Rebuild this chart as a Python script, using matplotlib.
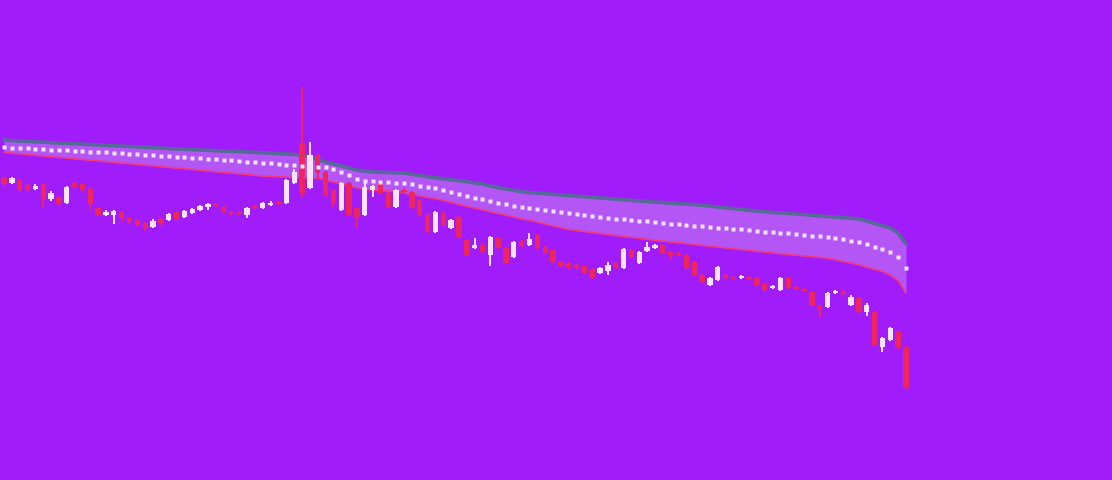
import numpy as np
import matplotlib
matplotlib.use("Agg")
import matplotlib.pyplot as plt

# candle data (price units), one per bar
opens = [302, 297, 300, 295, 291, 296, 281, 283, 277, 297, 296, 291, 272, 265, 265, 268, 262, 260, 257, 253,
         261, 260, 268, 263, 267, 270, 273, 276, 273, 268, 268, 265, 274, 272, 275, 278, 277, 297, 337, 292,
         325, 308, 290, 270, 297, 272, 265, 290, 297, 287, 273, 290, 288, 280, 265, 248, 267, 252, 263, 240,
         232, 235, 225, 242, 232, 223, 239, 235, 245, 233, 230, 218, 217, 215, 214, 211, 207, 209, 217, 212,
         230, 217, 229, 232, 235, 228, 227, 225, 218, 205, 195, 200, 205, 203, 202, 203, 202, 196, 192, 190,
         202, 193, 191, 188, 174, 173, 187, 188, 175, 182, 168, 168, 133, 140, 148, 133]
highs = [303, 303, 301, 296, 296, 297, 289, 284, 294, 299, 297, 292, 273, 270, 270, 269, 263, 261, 258, 261,
         262, 267, 269, 270, 272, 275, 277, 277, 274, 269, 269, 273, 275, 278, 279, 279, 301, 311, 393, 338,
         327, 309, 291, 298, 298, 273, 297, 295, 298, 288, 291, 292, 289, 281, 267, 269, 268, 261, 264, 241,
         242, 236, 244, 243, 233, 239, 240, 247, 246, 234, 231, 219, 218, 216, 215, 212, 213, 218, 218, 232,
         231, 229, 238, 236, 236, 229, 228, 226, 219, 206, 203, 214, 206, 204, 205, 204, 203, 197, 195, 203,
         203, 195, 192, 189, 175, 188, 190, 190, 185, 183, 177, 169, 143, 153, 149, 134]
lows = [294, 296, 288, 289, 290, 272, 279, 274, 276, 292, 289, 270, 264, 264, 256, 259, 256, 254, 249, 252,
        254, 259, 260, 262, 266, 269, 270, 273, 267, 265, 265, 262, 271, 271, 274, 275, 276, 296, 282, 291,
        300, 282, 273, 269, 264, 252, 264, 283, 286, 272, 272, 286, 271, 264, 247, 247, 254, 251, 242, 224,
        231, 227, 214, 231, 216, 222, 233, 234, 231, 226, 217, 212, 210, 210, 206, 201, 206, 205, 211, 211,
        222, 216, 228, 231, 226, 220, 224, 211, 204, 197, 194, 199, 201, 200, 201, 200, 194, 189, 191, 189,
        191, 190, 188, 174, 162, 172, 186, 185, 174, 167, 164, 134, 128, 139, 131, 91]
closes = [296, 302, 290, 290, 294, 281, 287, 277, 293, 293, 290, 276, 265, 268, 269, 262, 258, 255, 252, 259,
          257, 266, 261, 269, 271, 274, 276, 274, 268, 266, 266, 272, 272, 277, 277, 276, 300, 308, 287, 325,
          307, 285, 277, 297, 265, 263, 293, 294, 287, 273, 290, 288, 272, 265, 248, 268, 255, 260, 243, 225,
          235, 228, 243, 232, 217, 238, 234, 241, 232, 227, 218, 214, 213, 212, 207, 203, 212, 215, 212, 231,
          223, 228, 233, 235, 227, 225, 225, 212, 205, 198, 202, 213, 202, 201, 204, 201, 195, 190, 194, 202,
          192, 191, 189, 175, 170, 187, 189, 186, 183, 168, 175, 135, 142, 152, 132, 92]

# channel lines
upper = [340, 339.4, 339, 338.6, 338.2, 337.8, 337.4, 337, 336.6, 336.2, 335.9, 335.5, 335.1, 334.7, 334.3,
         333.9, 333.5, 333.1, 332.7, 332.3, 331.9, 331.5, 331.1, 330.8, 330.4, 330, 329.7, 329.3, 329, 328.7,
         328.3, 328, 327.6, 327.3, 326.9, 326.5, 326, 325.5, 325, 323, 320.5, 318, 316, 314, 312,
         310, 309, 308, 307.7, 307.5, 307.2, 307, 305.7, 304.5, 303.3, 302.3, 301.3, 300.3, 299.3, 298.4,
         297, 296, 294, 292.5, 291, 289.7, 288.2, 287.5, 287, 286.3, 285.7, 285.1, 284.5, 283.8, 283.3,
         282.7, 282, 281.5, 280.9, 280.2, 279.7, 279.1, 278.5, 277.9, 277.4, 276.9, 276.4, 275.9, 275.4, 274.8,
         274, 273, 272.2, 271.4, 270.7, 269.7, 269, 268.2, 267.5, 267.2, 266.6, 266, 265.4, 264.7, 264,
         263.5, 263, 262.3, 261.7, 261, 259, 256.5, 254.4, 252, 247, 236]
lower = [327.6, 326.9, 326.2, 325.5, 324.8, 324.1, 323.4, 322.7, 322, 321.2, 320.6, 319.9, 319.2, 318.4, 317.7,
         317, 316.4, 315.6, 314.9, 314.2, 313.4, 312.7, 311.9, 311.3, 310.6, 309.8, 309.1, 308.3, 307.6, 306.9,
         306.2, 305.5, 304.7, 304, 303.6, 303.2, 302.8, 302.4, 302, 302, 302, 300, 298, 296, 294,
         292.3, 291, 289.8, 289.4, 288.9, 288.4, 287, 285.4, 284, 282.6, 281.3, 279.5, 277.6, 275.7, 273.7,
         271.9, 270.2, 268.3, 266.5, 264.9, 263.1, 261.2, 259.8, 257.9, 256.1, 254.2, 252.4, 250.5, 249.5, 248.6,
         247.6, 246.6, 245.6, 244.6, 243.6, 242.7, 241.7, 240.7, 239.8, 238.9, 238.1, 237.3, 236.4, 235.6, 234.7,
         233.8, 233, 232.1, 231.4, 230.5, 229.7, 228.8, 228, 227.1, 226.3, 225.5, 224.8, 224.1, 223.4, 222.6,
         221.8, 220.3, 218.6, 216.9, 215.2, 212.9, 210.6, 208.5, 205, 199.4, 187]
middle = [332.8, 332.4, 332, 331.6, 331.2, 330.8, 330.4, 330, 329.6, 329.2, 328.9, 328.5, 328.1, 327.6, 327.2,
          326.7, 326.3, 325.8, 325.3, 324.8, 324.3, 323.9, 323.4, 323, 322.5, 322, 321.4, 320.8, 320.2, 319.7,
          319.1, 318.5, 317.9, 317.3, 316.7, 316.1, 315.4, 314.6, 314, 313.7, 313.4, 313, 311, 308.3, 305,
          301.5, 299.5, 298.7, 298.3, 297.8, 297.4, 296.9, 295.7, 294.5, 293.4, 292.3, 290.4, 288.2, 286, 283.8,
          282, 280.6, 279, 277.4, 275.8, 274.2, 272.7, 271.9, 270.9, 269.9, 268.9, 267.9, 266.9, 265.9, 265,
          264, 263, 262.3, 261.5, 260.7, 260.1, 259.3, 258.6, 257.8, 257.1, 256.5, 255.9, 255.2, 254.5, 253.8,
          253.2, 252.5, 251.8, 251.2, 250.6, 249.9, 249.2, 248.5, 247.8, 247.3, 246.6, 245.8, 245.1, 244.4, 243.6,
          242.9, 241.8, 240.6, 239.4, 238.2, 235.8, 233.4, 231.4, 227.8, 223.2, 212]

BG = "#a01cfa"
UP_COL = "#fbe4fb"
DOWN_COL = "#ee2660"

o = np.array(opens)
h = np.array(highs)
l = np.array(lows)
c = np.array(closes)
x = np.arange(len(o))
rising = c >= o
colors = np.where(rising, UP_COL, DOWN_COL)

fig = plt.figure(figsize=(11.12, 4.8), dpi=100, facecolor=BG)
ax = fig.add_axes([0, 0, 1, 1])
ax.set_facecolor(BG)

# channel
ax.fill_between(x, lower, upper, color="#c27cf4", alpha=0.6, lw=0, zorder=1)
ax.plot(x, upper, color="#566a98", lw=2.6, zorder=2, solid_capstyle="round")
ax.plot(x, lower, color="#f23a7e", lw=1.2, zorder=2)
ax.plot(x, middle, ls="none", marker="s", ms=3.3, color="#f6e2fb", mec="none", zorder=5)

# candles
ax.vlines(x, l, h, colors=colors, lw=1.4, zorder=3)
body_h = np.maximum(np.abs(c - o), 1.5)
ax.bar(x, body_h, bottom=np.minimum(o, c), width=0.68, color=colors, lw=0, zorder=4)

ax.set_xlim(-0.51, 141.27)
ax.set_ylim(0, 480)
ax.axis("off")

fig.savefig("out.png", dpi=100, facecolor=BG)
